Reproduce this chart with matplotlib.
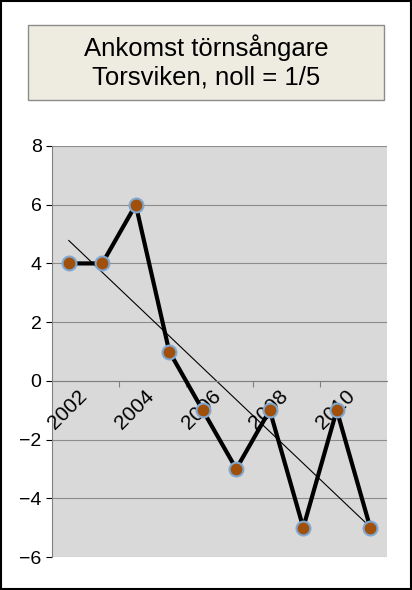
import matplotlib
matplotlib.use("Agg")
import matplotlib.pyplot as plt
from matplotlib.patches import Rectangle
import numpy as np

years = [2002, 2003, 2004, 2005, 2006, 2007, 2008, 2009, 2010, 2011]
values = [4, 4, 6, 1, -1, -3, -1, -5, -1, -5]
label_years = [2002, 2004, 2006, 2008, 2010]
yticks = [-6, -4, -2, 0, 2, 4, 6, 8]

plt.rcParams['font.family'] = ['Liberation Sans', 'DejaVu Sans']
fig = plt.figure(figsize=(4.12, 5.90), dpi=100)
fig.patches.append(Rectangle((0.003, 0.002), 0.994, 0.996, transform=fig.transFigure,
                             fill=False, edgecolor='black', linewidth=1.5))
# title box
fig.patches.append(Rectangle((28/412, 1-100/590), 356/412, 75/590, transform=fig.transFigure,
                             facecolor='#EEECE1', edgecolor='#8c8c8c', linewidth=1))
fig.text(206/412, 1-62/590, "Ankomst törnsångare\nTorsviken, noll = 1/5", ha='center', va='center',
         fontsize=18.5, linespacing=1.2)

ax = fig.add_axes([52/412, 33/590, 335/412, 411/590])
ax.set_facecolor('#D9D9D9')
ax.set_xlim(2001.5, 2011.5)
ax.set_ylim(-6, 8)
ax.set_yticks(yticks)
ax.tick_params(axis='y', labelsize=14, length=4, direction='out')
ax.grid(axis='y', color='#8c8c8c', linewidth=0.8)
ax.set_axisbelow(True)
for s in ['top', 'right']:
    ax.spines[s].set_visible(False)
ax.spines['left'].set_color('#808080')
ax.spines['bottom'].set_position(('data', 0))
ax.spines['bottom'].set_color('#808080')
ax.set_xticks([2003.5, 2005.5, 2007.5, 2009.5])
ax.set_xticklabels([])
ax.tick_params(axis='x', length=4, direction='out', colors='#808080')
for yr in label_years:
    ax.text(yr + 0.25, -0.2, str(yr), rotation=45, ha='right', va='top',
            rotation_mode='anchor', fontsize=15)

ax.plot(years, values, color='black', linewidth=3, zorder=3,
        marker='o', markersize=10, markerfacecolor='#A0500A',
        markeredgecolor='#7FA7D0', markeredgewidth=1.5)
coef = np.polyfit(years, values, 1)
ax.plot(years, np.polyval(coef, years), color='black', linewidth=0.8, zorder=2)

fig.savefig("out.png", dpi=100)
